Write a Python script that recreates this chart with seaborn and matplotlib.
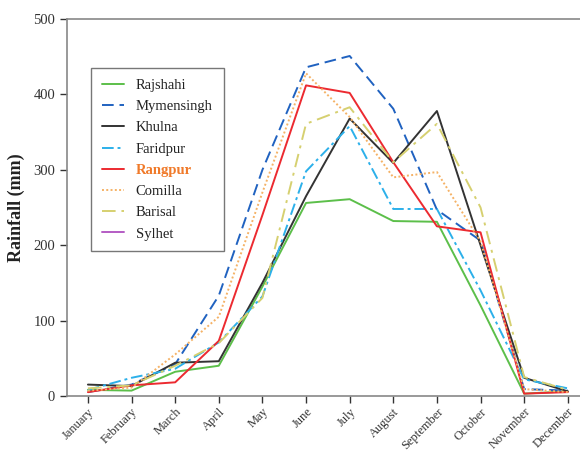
"""
Monthly rainfall by division, line chart.
"""

import pandas as pd
import seaborn as sns
import matplotlib.pyplot as plt
from matplotlib.lines import Line2D


MONTHS = [
    "January", "February", "March", "April", "May", "June",
    "July", "August", "September", "October", "November", "December"
]

RAJSHAHI = [8, 7, 32, 40, 145, 256, 261, 232, 231, 120, 3, 6]
MYMENSINGH = [5, 15, 42, 133, 300, 436, 451, 381, 247, 206, 9, 7]
KHULNA = [15, 13, 44, 46, 150, 265, 368, 309, 378, 200, 24, 6]
FARIDPUR = [8, 24, 36, 71, 132, 298, 358, 248, 248, 140, 22, 10]
RANGPUR = [5, 14, 18, 73, 240, 412, 402, 310, 225, 217, 3, 5]
COMILLA = [7, 11, 55, 105, 270, 428, 370, 290, 297, 205, 9, 5]
BARISAL = [10, 14, 40, 70, 130, 361, 383, 310, 361, 250, 25, 8]
SYLHET: list[float] = []


SERIES = [
    ("Rajshahi", RAJSHAHI, "#5cbf4a", "-"),
    ("Mymensingh", MYMENSINGH, "#2062c0", (0, (6, 3))),
    ("Khulna", KHULNA, "#333333", "-"),
    ("Faridpur", FARIDPUR, "#2cb0ea", (0, (6, 2, 1.5, 2))),
    ("Rangpur", RANGPUR, "#ec2a30", "-"),
    ("Comilla", COMILLA, "#f5b266", (0, (1, 1.2))),
    ("Barisal", BARISAL, "#d6d070", (0, (7, 3, 1.5, 3))),
    ("Sylhet", SYLHET, "#b45cc4", "-"),
]


def main() -> None:
    sns.set_style("ticks")
    plt.rcParams["font.family"] = ["Liberation Serif", "DejaVu Serif"]

    fig = plt.figure(figsize=(5.8, 4.54), dpi=100)
    ax = fig.add_axes([0.1155, 0.128, 0.8845, 0.83])

    handles = []
    for name, values, color, style in SERIES:
        frame = pd.DataFrame({"x": range(len(values)), "y": values})
        sns.lineplot(
            data=frame, x="x", y="y", ax=ax, color=color,
            linestyle=style, linewidth=1.4
        )
        handles.append(
            Line2D([], [], color=color, linestyle=style, linewidth=1.4)
        )

    ax.set_xlim(-0.48, 11.28)
    ax.set_ylim(0, 500)
    ax.set_yticks([0, 100, 200, 300, 400, 500])
    ax.set_xticks(range(len(MONTHS)))
    ax.set_xticklabels(
        MONTHS, rotation=45, ha="right", rotation_mode="anchor"
    )
    ax.set_xlabel("")
    ax.set_ylabel("Rainfall (mm)", fontsize=13, fontweight="bold",
                  color="#222222", labelpad=6)
    ax.tick_params(axis="x", labelsize=9, pad=2)
    ax.tick_params(axis="y", labelsize=10.5)
    ax.tick_params(colors="#333333", length=5, width=1, direction="out")
    for tick in ax.get_xticklabels() + ax.get_yticklabels():
        tick.set_color("#333333")

    for side in ["left", "bottom", "top"]:
        ax.spines[side].set_color("#888888")
        ax.spines[side].set_linewidth(1.2)
    ax.spines["right"].set_visible(False)

    legend = ax.legend(
        handles, [s[0] for s in SERIES],
        loc="upper left", bbox_to_anchor=(0.033, 0.89),
        frameon=True, fancybox=False, edgecolor="#777777",
        fontsize=10.5, handlelength=1.5, labelspacing=0.55,
        borderpad=0.75, handletextpad=0.8, framealpha=1
    )
    legend.get_frame().set_linewidth(1.0)
    for text in legend.get_texts():
        text.set_color("#222222")
    legend.get_texts()[4].set_color("#f07a2a")
    legend.get_texts()[4].set_fontweight("bold")

    fig.savefig("out.png", dpi=100)


if __name__ == "__main__":
    main()
